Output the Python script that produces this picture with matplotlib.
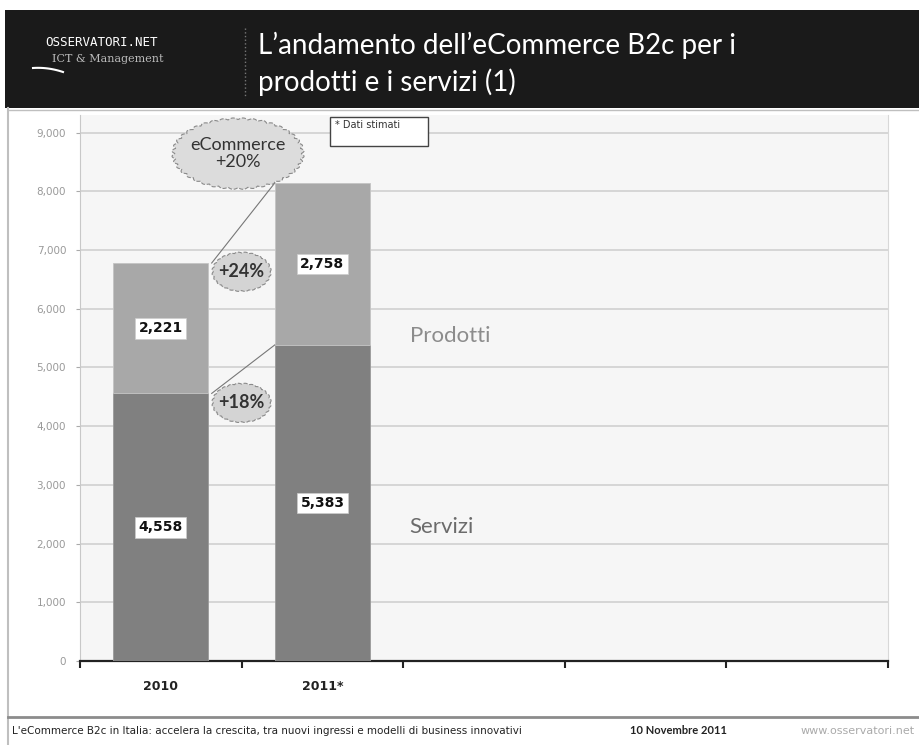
import numpy as np
import matplotlib
matplotlib.use("Agg")
import matplotlib.pyplot as plt
from matplotlib.patches import Rectangle, Polygon
from matplotlib.lines import Line2D

# data
years = ["2010", "2011*", "", "", ""]
servizi = [4558, 5383]
prodotti = [2221, 2758]
y_ticks = [0, 1000, 2000, 3000, 4000, 5000, 6000, 7000, 8000, 9000]

c_serv = "#808080"
c_prod = "#a8a8a8"
narrow = ["Lato", "DejaVu Sans"]

fig = plt.figure(figsize=(9.19, 7.45), dpi=100)
W, H = 919, 745


def fx(px):
    return px / W


def fy(py):
    return 1 - py / H


# header band
fig.patches.append(Rectangle((fx(5), fy(108)), 1, 98 / H, transform=fig.transFigure,
                             facecolor="#1a1a1a", edgecolor="none", zorder=0))
fig.text(fx(45), fy(43), "OSSERVATORI.NET", color="white", fontsize=9,
         family="DejaVu Sans Mono", va="center", ha="left")
fig.text(fx(52), fy(59), "ICT & Management", color="#bbbbbb", fontsize=8,
         family="DejaVu Serif", va="center", ha="left")
tt = np.linspace(0, 1, 30)
fig.lines.append(Line2D(fx(33 + 30 * tt), fy(68 + 6 * tt ** 2 - 2 * tt), transform=fig.transFigure,
                        color="white", lw=1.5))
fig.lines.append(Line2D([fx(245), fx(245)], [fy(28), fy(98)], transform=fig.transFigure,
                        color="#777777", lw=1, ls=":"))
fig.text(fx(258), fy(45), "L\u2019andamento dell\u2019eCommerce B2c per i", color="white",
         fontsize=20, family=narrow, va="center", ha="left")
fig.text(fx(258), fy(82), "prodotti e i servizi (1)", color="white",
         fontsize=20, family=narrow, va="center", ha="left")

# frame lines
fig.lines.append(Line2D([fx(8), fx(8)], [fy(108), 0], transform=fig.transFigure, color="#bfbfbf", lw=1.5))
fig.lines.append(Line2D([fx(8), 1], [fy(110), fy(110)], transform=fig.transFigure, color="#bfbfbf", lw=1))
fig.lines.append(Line2D([fx(8), 1], [fy(717), fy(717)], transform=fig.transFigure, color="#8c8c8c", lw=2))

# footer
fig.text(fx(12), fy(731), "L'eCommerce B2c in Italia: accelera la crescita, tra nuovi ingressi e modelli di business innovativi",
         fontsize=7.5, color="#222222", va="center", ha="left")
fig.text(fx(630), fy(731), "10 Novembre 2011", fontsize=8, color="#222222", va="center",
         ha="left", weight="bold", family=narrow)
fig.text(fx(915), fy(731), "www.osservatori.net", fontsize=8, color="#aaaaaa", va="center", ha="right")

# chart
ax = fig.add_axes([fx(80), fy(661), fx(888) - fx(80), (661 - 115) / H])
ax.set_facecolor("#f6f6f6")
x = np.arange(len(servizi))
bw = 0.59
ax.bar(x, servizi, width=bw, color=c_serv, edgecolor="#9a9a9a", linewidth=0.6, zorder=3)
ax.bar(x, prodotti, width=bw, bottom=servizi, color=c_prod, edgecolor="#c4c4c4", linewidth=0.6, zorder=3)

box = dict(boxstyle="square,pad=0.25", facecolor="white", edgecolor="#cccccc", lw=0.5)
for i in x:
    ax.text(i, servizi[i] / 2, f"{servizi[i]:,}", ha="center", va="center", fontsize=10,
            weight="bold", color="#111111", bbox=box, zorder=5)
    ax.text(i, servizi[i] + prodotti[i] / 2, f"{prodotti[i]:,}", ha="center", va="center",
            fontsize=10, weight="bold", color="#111111", bbox=box, zorder=5)

tot = [s + p for s, p in zip(servizi, prodotti)]
# connector lines between bars
ax.plot([bw / 2 + 0.02, 1 - bw / 2], [tot[0], tot[1]], color="#777777", lw=0.8, zorder=4)
ax.plot([bw / 2 + 0.02, 1 - bw / 2], [servizi[0], servizi[1]], color="#777777", lw=0.8, zorder=4)


def cloud(cx, cy, a, b, n, amp):
    t = np.linspace(0, 2 * np.pi, 800)
    r = 1 + amp * np.abs(np.sin(n * t))
    return np.column_stack([cx + a * r * np.cos(t), cy + b * r * np.sin(t)])


g_tot = round((tot[1] / tot[0] - 1) * 100)
g_prod = round((prodotti[1] / prodotti[0] - 1) * 100)
g_serv = round((servizi[1] / servizi[0] - 1) * 100)

ax.add_patch(Polygon(cloud(0.478, 8642, 0.39, 580, 20, 0.05), closed=True, facecolor="#dcdcdc",
                     edgecolor="#8a8a8a", lw=0.8, ls="--", zorder=6))
ax.text(0.478, 8642, f"eCommerce\n+{g_tot}%", ha="center", va="center", fontsize=13,
        color="#333333", linespacing=1.1, family=narrow, zorder=7)
for cy, g in [(6630, g_prod), (4397, g_serv)]:
    ax.add_patch(Polygon(cloud(0.5, cy, 0.175, 320, 12, 0.05), closed=True, facecolor="#d4d4d4",
                         edgecolor="#8a8a8a", lw=0.8, ls="--", zorder=6))
    ax.text(0.5, cy, f"+{g}%", ha="center", va="center", fontsize=13, weight="bold",
            color="#333333", family=narrow, zorder=7)

ax.text(1.54, 5540, "Prodotti", fontsize=16, color="#8c8c8c", ha="left", va="center", family=narrow)
ax.text(1.54, 2284, "Servizi", fontsize=16, color="#6b6b6b", ha="left", va="center", family=narrow)

ax.add_patch(Rectangle((1.047, 8778), 0.606, 494, facecolor="white", edgecolor="#444444",
                       lw=1.0, zorder=8))
ax.text(1.08, 9130, "* Dati stimati", fontsize=7, color="#333333", ha="left", va="center", zorder=9)

ax.set_xlim(-0.5, len(years) - 0.5)
ax.set_ylim(0, 9300)
ax.set_yticks(y_ticks)
ax.set_yticklabels([f"{v:,}" for v in y_ticks], fontsize=7.5, color="#999999")
ax.yaxis.grid(True, color="#d0d0d0", lw=1.2, zorder=0)
ax.set_axisbelow(True)
ax.set_xticks(np.arange(len(years)))
ax.set_xticklabels(years, fontsize=9, weight="bold", color="#222222")
ax.set_xticks(np.arange(len(years) + 1) - 0.5, minor=True)
ax.tick_params(axis="x", which="major", length=0, pad=14)
ax.tick_params(axis="x", which="minor", length=5, width=1.5, color="#222222", direction="out")
ax.tick_params(axis="y", length=3, color="#aaaaaa", pad=7)
ax.spines["top"].set_visible(False)
ax.spines["left"].set_color("#c8c8c8")
ax.spines["right"].set_color("#d8d8d8")
ax.spines["bottom"].set_color("#222222")
ax.spines["bottom"].set_linewidth(1.6)

fig.savefig("out.png", dpi=100)
